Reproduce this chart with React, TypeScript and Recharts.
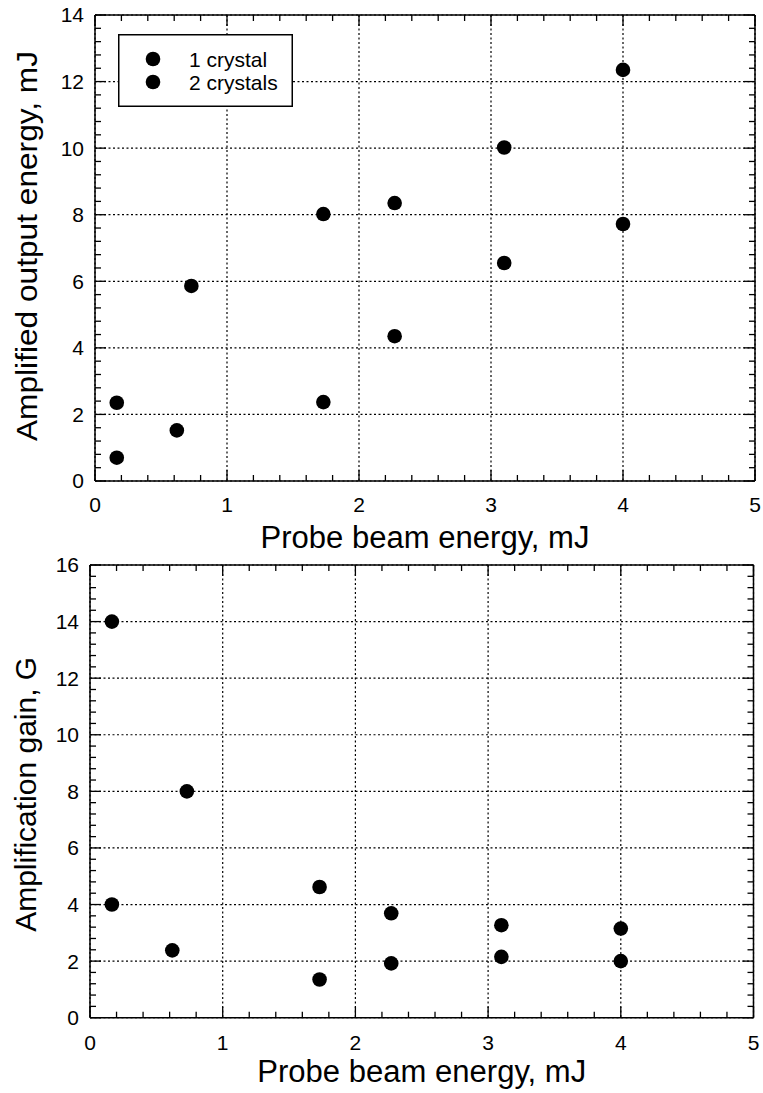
import React from 'react';
import { ScatterChart, Scatter, XAxis, YAxis, CartesianGrid, Legend, Label, ReferenceLine } from 'recharts';

const FONT = '"Liberation Sans", Arial, Helvetica, sans-serif';

// ---- data ----
const seriesNames = ['1 crystal', '2 crystals'];
const probe1 = [0.165, 0.62, 1.73, 2.27, 3.1, 4.0];
const output1 = [0.7, 1.52, 2.37, 4.35, 6.55, 7.72];
const gain1 = [4.0, 2.38, 1.35, 1.92, 2.15, 2.0];
const probe2 = [0.165, 0.73, 1.73, 2.27, 3.1, 4.0];
const output2 = [2.35, 5.86, 8.02, 8.35, 10.02, 12.35];
const gain2 = [14.0, 8.0, 4.62, 3.69, 3.27, 3.15];

// ---- ticks ----
const xMajorTicks = [0, 1, 2, 3, 4, 5];
const xMinorTicks = [0.2, 0.4, 0.6, 0.8, 1.2, 1.4, 1.6, 1.8, 2.2, 2.4, 2.6, 2.8, 3.2, 3.4, 3.6, 3.8, 4.2, 4.4, 4.6, 4.8];
const outMajorTicks = [0, 2, 4, 6, 8, 10, 12, 14];
const outMinorTicks = [0.4, 0.8, 1.2, 1.6, 2.4, 2.8, 3.2, 3.6, 4.4, 4.8, 5.2, 5.6, 6.4, 6.8, 7.2, 7.6, 8.4, 8.8, 9.2, 9.6, 10.4, 10.8, 11.2, 11.6, 12.4, 12.8, 13.2, 13.6];
const gainMajorTicks = [0, 2, 4, 6, 8, 10, 12, 14, 16];
const gainMinorTicks = [0.4, 0.8, 1.2, 1.6, 2.4, 2.8, 3.2, 3.6, 4.4, 4.8, 5.2, 5.6, 6.4, 6.8, 7.2, 7.6, 8.4, 8.8, 9.2, 9.6, 10.4, 10.8, 11.2, 11.6, 12.4, 12.8, 13.2, 13.6, 14.4, 14.8, 15.2, 15.6];

const xLabelText = 'Probe beam energy, mJ';
const topYLabelText = 'Amplified output energy, mJ';
const bottomYLabelText = 'Amplification gain, G';

const toPoints = (xs: number[], ys: number[]) => xs.map((x, i) => ({ x, y: ys[i] }));

const Dot = (props: any) =>
  props.cx == null ? <g /> : <circle cx={props.cx} cy={props.cy} r={7.3} fill="#000" />;

const renderLegend = (props: any) => {
  const payload = props.payload || [];
  return (
    <svg width={175} height={73} style={{ display: 'block' }}>
      <rect x={0.75} y={0.75} width={173.5} height={71.5} fill="#fff" stroke="#000" strokeWidth={1.5} />
      {payload.map((entry: any, i: number) => (
        <g key={i}>
          <circle cx={35} cy={25 + 23 * i} r={7.3} fill="#000" />
          <text x={71} y={25 + 23 * i + 7.5} fontSize={21} fill="#000" fontFamily={FONT}>
            {entry.value}
          </text>
        </g>
      ))}
    </svg>
  );
};

const TICK_W = 1.3;
const MAJOR_LEN = 11;
const MINOR_LEN = 6;

type PanelProps = {
  height: number;
  margin: { top: number; right: number; bottom: number; left: number };
  yAxisWidth: number;
  xAxisHeight: number;
  yMax: number;
  yMajor: number[];
  yMinor: number[];
  s1: { x: number; y: number }[];
  s2: { x: number; y: number }[];
  yLabel: string;
  yLabelLen: number;
  yLabelBaseX: number;
  yLabelDy: number;
  xLabelOffset: number;
  xTickMargin: number;
  showLegend: boolean;
};

function Panel(p: PanelProps) {
  const plotLeft = p.margin.left + p.yAxisWidth;
  const plotW = 763 - p.margin.right - plotLeft;
  const plotH = p.height - p.margin.top - p.margin.bottom - p.xAxisHeight;
  const yTickMargin = 11;

  const xTick = (props: any) => {
    const { x, y, payload } = props;
    const v = payload.value;
    const major = xMajorTicks.includes(v);
    const len = major ? MAJOR_LEN : MINOR_LEN;
    const yb = y - p.xTickMargin;
    const yt = yb - plotH;
    return (
      <g>
        <line x1={x} y1={yb} x2={x} y2={yb - len} stroke="#000" strokeWidth={TICK_W} />
        <line x1={x} y1={yt} x2={x} y2={yt + len} stroke="#000" strokeWidth={TICK_W} />
        {major && (
          <text x={x} y={y} dy="0.71em" textAnchor="middle" fontSize={21} fill="#000" fontFamily={FONT}>
            {v}
          </text>
        )}
      </g>
    );
  };
  const yTick = (props: any) => {
    const { x, y, payload } = props;
    const v = payload.value;
    const major = p.yMajor.includes(v);
    const len = major ? MAJOR_LEN : MINOR_LEN;
    const xl = x + yTickMargin;
    const xr = xl + plotW;
    return (
      <g>
        <line x1={xl} y1={y} x2={xl + len} y2={y} stroke="#000" strokeWidth={TICK_W} />
        <line x1={xr} y1={y} x2={xr - len} y2={y} stroke="#000" strokeWidth={TICK_W} />
        {major && (
          <text x={x} y={y} dy="0.355em" textAnchor="end" fontSize={21} fill="#000" fontFamily={FONT}>
            {v}
          </text>
        )}
      </g>
    );
  };
  const xLabelContent = (props: any) => {
    const vb = props.viewBox || {};
    const cx = vb.x + vb.width / 2;
    return (
      <text x={cx} y={vb.y + p.xLabelOffset} textAnchor="middle" fontSize={31} fill="#000" fontFamily={FONT}
        textLength={329} lengthAdjust="spacingAndGlyphs">
        {xLabelText}
      </text>
    );
  };
  const yLabelContent = (props: any) => {
    const vb = props.viewBox || {};
    const bx = vb.x + p.yLabelBaseX;
    const cy = vb.y + vb.height / 2 + p.yLabelDy;
    return (
      <text x={bx} y={cy} transform={`rotate(-90 ${bx} ${cy})`} textAnchor="middle" fontSize={30} fill="#000"
        fontFamily={FONT} textLength={p.yLabelLen} lengthAdjust="spacingAndGlyphs">
        {p.yLabel}
      </text>
    );
  };
  const vGen = (args: any) => {
    const ax = args.xAxis;
    if (ax && typeof ax.scale === 'function') return xMajorTicks.map((v) => ax.scale(v));
    const o = args.offset;
    return xMajorTicks.map((v) => o.left + (v / 5) * o.width);
  };
  const hGen = (args: any) => {
    const ax = args.yAxis;
    if (ax && typeof ax.scale === 'function') return p.yMajor.map((v) => ax.scale(v));
    const o = args.offset;
    return p.yMajor.map((v) => o.top + o.height - (v / p.yMax) * o.height);
  };
  return (
    <ScatterChart width={763} height={p.height} margin={p.margin}>
      <CartesianGrid xAxisId="x" yAxisId="y" stroke="#000" strokeWidth={1.2} strokeDasharray="2 2.5"
        verticalCoordinatesGenerator={vGen} horizontalCoordinatesGenerator={hGen} />
      <XAxis xAxisId="x" type="number" dataKey="x" domain={[0, 5]} ticks={[...xMajorTicks, ...xMinorTicks]}
        interval={0} allowDataOverflow tickLine={false} tickSize={0} tickMargin={p.xTickMargin}
        axisLine={{ stroke: '#000', strokeWidth: 1.5 }} tick={xTick} height={p.xAxisHeight}
        label={<Label content={xLabelContent} />} />
      <YAxis yAxisId="y" type="number" dataKey="y" domain={[0, p.yMax]} ticks={[...p.yMajor, ...p.yMinor]}
        interval={0} allowDataOverflow tickLine={false} tickSize={0} tickMargin={yTickMargin}
        axisLine={{ stroke: '#000', strokeWidth: 1.5 }} tick={yTick} width={p.yAxisWidth}
        label={<Label content={yLabelContent} />} />
      <ReferenceLine xAxisId="x" yAxisId="y" y={p.yMax} stroke="#000" strokeWidth={1.5} ifOverflow="visible" />
      <ReferenceLine xAxisId="x" yAxisId="y" x={5} stroke="#000" strokeWidth={1.5} ifOverflow="visible" />
      <Scatter name={seriesNames[0]} xAxisId="x" yAxisId="y" data={p.s1} fill="#000" shape={Dot}
        legendType="circle" isAnimationActive={false} />
      <Scatter name={seriesNames[1]} xAxisId="x" yAxisId="y" data={p.s2} fill="#000" shape={Dot}
        legendType="circle" isAnimationActive={false} />
      {p.showLegend && (
        <Legend layout="vertical" align="center" verticalAlign="middle" content={renderLegend}
          wrapperStyle={{ left: 118, top: 34, width: 175, height: 73 }} />
      )}
    </ScatterChart>
  );
}

export default function App() {
  return (
    <div style={{ position: 'absolute', left: 0, top: 0, width: 763, height: 1093, overflow: 'hidden', background: '#fff', fontFamily: FONT }}>
      <div style={{ position: 'absolute', left: 0, top: 0 }}>
        <Panel
          height={560}
          margin={{ top: 15, right: 8, bottom: 0, left: 0 }}
          yAxisWidth={95}
          xAxisHeight={79}
          yMax={14}
          yMajor={outMajorTicks}
          yMinor={outMinorTicks}
          s1={toPoints(probe1, output1)}
          s2={toPoints(probe2, output2)}
          yLabel={topYLabelText}
          yLabelLen={390}
          yLabelBaseX={37}
          yLabelDy={-2}
          xLabelOffset={67}
          xTickMargin={16}
          showLegend={true}
        />
      </div>
      <div style={{ position: 'absolute', left: 0, top: 540 }}>
        <Panel
          height={553}
          margin={{ top: 25, right: 9.5, bottom: 0, left: 0 }}
          yAxisWidth={90}
          xAxisHeight={75.3}
          yMax={16}
          yMajor={gainMajorTicks}
          yMinor={gainMinorTicks}
          s1={toPoints(probe1, gain1)}
          s2={toPoints(probe2, gain2)}
          yLabel={bottomYLabelText}
          yLabelLen={275}
          yLabelBaseX={36}
          yLabelDy={3}
          xLabelOffset={64}
          xTickMargin={17}
          showLegend={false}
        />
      </div>
    </div>
  );
}
